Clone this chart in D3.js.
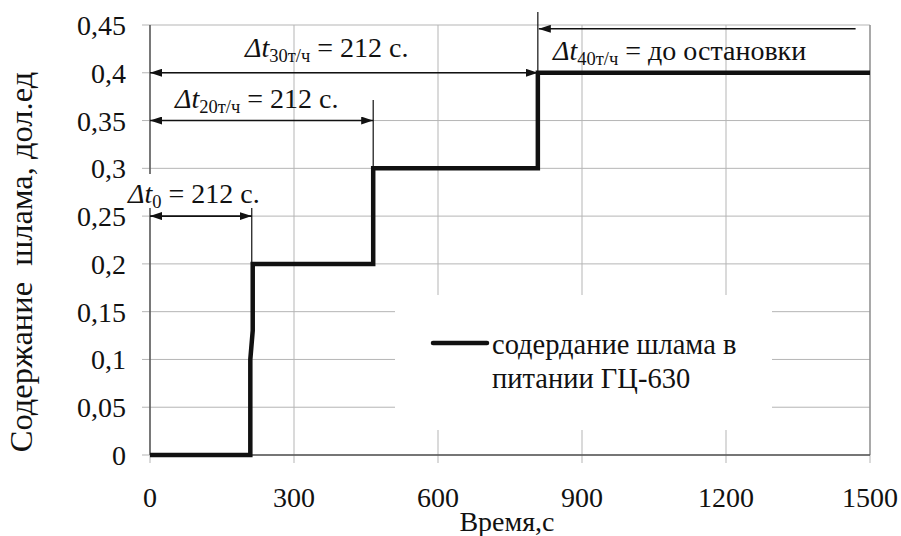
<!DOCTYPE html>
<html><head><meta charset="utf-8">
<script src="https://cdn.jsdelivr.net/npm/d3@7/dist/d3.min.js"></script>
</head><body style="margin:0;background:#fff">
<svg id="c" width="901" height="536"></svg>
<script>
// ---- data ----
const xTicks = [0, 300, 600, 900, 1200, 1500];
const yTicks = [0, 0.05, 0.1, 0.15, 0.2, 0.25, 0.3, 0.35, 0.4, 0.45];
const yTickLabels = ["0","0,05","0,1","0,15","0,2","0,25","0,3","0,35","0,4","0,45"];
const stepTime = [0, 209, 209, 214, 214, 465, 465, 808, 808, 1500];
const stepValue = [0, 0, 0.1, 0.13, 0.2, 0.2, 0.3, 0.3, 0.4, 0.4];
const seriesName = ["содердание шлама в", "питании ГЦ-630"];
const xTitle = "Время,с";
const yTitle = "Содержание  шлама, дол.ед";
// annotations
const annSub = ["0", "20т/ч", "30т/ч", "40т/ч"];
const annText = [" = 212 с.", " = 212 с.", " = 212 с.", " = до остановки"];
const annLevel = [0.25, 0.35, 0.4, 0.446];
const annFrom = [0, 0, 0, 1470];
const annTo = [212, 465, 808, 810];
const guideTime = [212, 465, 808];
const guideValue = [0.2, 0.3, 0.4];

// ---- layout ----
const svg = d3.select("#c");
const x = d3.scaleLinear().domain([0, 1500]).range([150, 870]);
const y = d3.scaleLinear().domain([0, 0.45]).range([455, 25]);
const FS = 28;
const INK = "#111";
const FONT = '"Liberation Serif"';

const defs = svg.append("defs");
defs.append("marker").attr("id","ah").attr("viewBox","0 0 12 8")
  .attr("refX",12).attr("refY",4).attr("markerWidth",12).attr("markerHeight",8)
  .attr("markerUnits","userSpaceOnUse").attr("orient","auto-start-reverse")
  .append("path").attr("d","M0,0 L12,4 L0,8 Z").attr("fill",INK);

// grid
const grid = svg.append("g");
grid.selectAll("line.h").data(yTicks).join("line")
  .attr("x1", 142).attr("x2", x(1500))
  .attr("y1", d => y(d)).attr("y2", d => y(d))
  .attr("stroke", "#b5b5b5").attr("stroke-width", 1);
grid.selectAll("line.v").data(xTicks).join("line")
  .attr("x1", d => x(d)).attr("x2", d => x(d))
  .attr("y1", y(0.45)).attr("y2", 463)
  .attr("stroke", "#b5b5b5").attr("stroke-width", 1);
svg.append("line").attr("x1",x(1500)).attr("x2",x(1500)).attr("y1",y(0.45)).attr("y2",y(0))
  .attr("stroke","#888").attr("stroke-width",1.2);

// legend background
svg.append("rect").attr("x",395).attr("y",295).attr("width",377).attr("height",135).attr("fill","#fff");

// axes lines
svg.append("line").attr("x1",x(0)).attr("x2",x(0)).attr("y1",y(0.45)).attr("y2",y(0))
  .attr("stroke","#444").attr("stroke-width",1.3);
svg.append("line").attr("x1",x(0)).attr("x2",x(1500)).attr("y1",y(0)).attr("y2",y(0))
  .attr("stroke","#555").attr("stroke-width",1.3);

function stext(px, py, anchor, fs) {
  return svg.append("text").attr("x", px).attr("y", py).attr("fill", INK)
    .attr("font-family", FONT)
    .attr("text-anchor", anchor || "start").attr("font-size", fs || FS);
}

// tick labels
yTicks.forEach((v, i) => stext(126, y(v) + 10, "end").text(yTickLabels[i]));
xTicks.forEach(v => stext(x(v), 507, "middle").text(v));

// axis titles
stext(507, 531, "middle").text(xTitle);
svg.append("text").attr("transform", "translate(32,262) rotate(-90)").attr("fill", INK)
  .attr("font-family", FONT)
  .attr("text-anchor","middle").attr("font-size",32.5)
  .attr("xml:space","preserve").style("white-space","pre").text(yTitle);

// step line
const pts = stepTime.map((t, i) => [t, stepValue[i]]);
svg.append("path").datum(pts)
  .attr("d", d3.line().x(d => x(d[0])).y(d => y(d[1])))
  .attr("fill","none").attr("stroke",INK).attr("stroke-width",4.5)
  .attr("stroke-linejoin","miter").attr("stroke-linecap","butt");

// annotation guide lines
const guideTop = [208, 100, 12];
guideTime.forEach((t, i) => {
  svg.append("line").attr("x1",x(t)).attr("x2",x(t))
    .attr("y1", guideTop[i]).attr("y2", y(guideValue[i]))
    .attr("stroke",INK).attr("stroke-width",1.2);
});

// annotation arrows
annLevel.forEach((lv, i) => {
  const ln = svg.append("line")
    .attr("x1", x(annFrom[i])).attr("x2", x(annTo[i]))
    .attr("y1", y(lv)).attr("y2", y(lv))
    .attr("stroke",INK).attr("stroke-width",1.6)
    .attr("marker-end","url(#ah)");
  if (i < 3) ln.attr("marker-start","url(#ah)");
});

// annotation labels
const annX = [128, 175, 245, 553];
const annY = [203, 108, 57, 60];
svg.append("rect").attr("x",136).attr("y",174).attr("width",24).attr("height",34).attr("fill","#fff");
annSub.forEach((s, i) => {
  const t = stext(annX[i], annY[i], "start").attr("xml:space","preserve").style("white-space","pre");
  t.append("tspan").attr("font-style","italic").text("Δt");
  t.append("tspan").attr("font-size", 18.5).attr("dy", 5).text(s);
  t.append("tspan").attr("dy", -5).text(annText[i]);
});

// legend
svg.append("line").attr("x1",433).attr("x2",487).attr("y1",343).attr("y2",343)
  .attr("stroke",INK).attr("stroke-width",4.5).attr("stroke-linecap","round");
stext(492, 354, "start", 28.5).text(seriesName[0]);
stext(492, 388, "start", 28.5).text(seriesName[1]);
</script>
</body></html>
